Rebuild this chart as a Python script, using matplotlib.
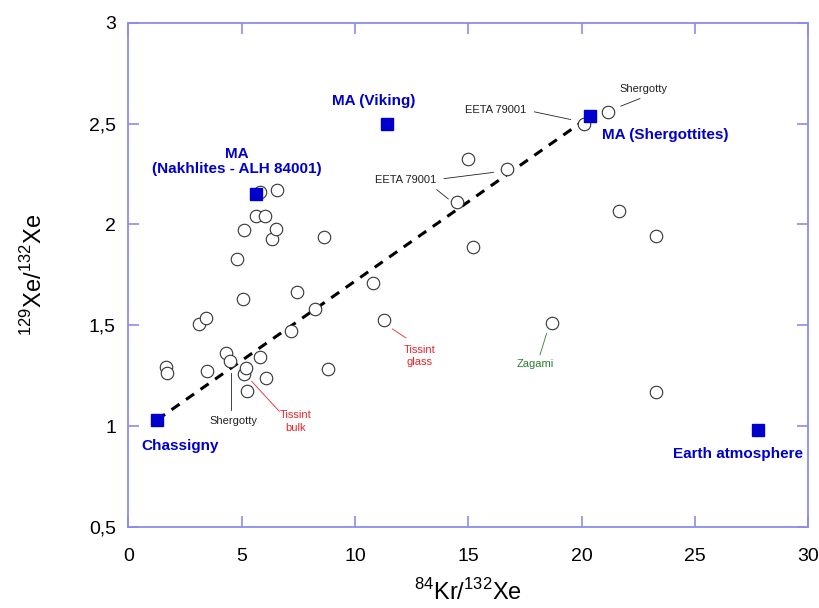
########################################################################
# Kr-Xe isotope plot of martian meteorites
########################################################################

import numpy as np
import matplotlib
matplotlib.use("Agg")
import matplotlib.pyplot as plt

### Input ##############################################################
#Meteorite analyses (open circles)
KrXe=[1.65,1.68,3.12,3.41,3.46,4.29,4.47,4.81,5.07,5.10,5.12,5.19,5.24,
	5.62,5.79,5.81,6.01,6.06,6.34,6.50,6.57,7.18,7.45,8.22,8.62,8.81,
	10.79,11.28,14.50,15.00,15.19,16.69,18.69,20.09,21.19,21.67,23.28,23.29]
XeXe=[1.292,1.262,1.504,1.535,1.274,1.363,1.322,1.830,1.628,1.970,1.260,
	1.289,1.175,2.040,2.160,1.341,2.040,1.240,1.930,1.977,2.169,1.473,
	1.667,1.580,1.937,1.282,1.711,1.524,2.109,2.326,1.887,2.276,1.512,
	2.500,2.557,2.068,1.945,1.171]

#End members (filled squares)
EndNames=['Chassigny','MA\n(Nakhlites - ALH 84001)','MA (Viking)',
	'MA (Shergottites)','Earth atmosphere']
EndKrXe=[1.26,5.65,11.41,20.38,27.78]
EndXeXe=[1.031,2.152,2.500,2.536,0.981]

#Mixing line between Chassigny and MA (Shergottites)
MixKrXe=[EndKrXe[0],EndKrXe[3]]
MixXeXe=[EndXeXe[0],EndXeXe[3]]

#Axis ticks
XTicks=[0,5,10,15,20,25,30]
YTicks=[0.5,1,1.5,2,2.5,3]
YTickLabels=['0,5','1','1,5','2','2,5','3']
### End Input ##########################################################

plt.rcParams['font.family']=['Liberation Sans','DejaVu Sans']
plt.rcParams['mathtext.fontset']='custom'
plt.rcParams['mathtext.rm']='Liberation Sans'
Blue='#0000cc'
Frame='#8c8cea'

fig=plt.figure(figsize=(8.2,6.08),dpi=100)
ax=fig.add_axes([0.1567,0.1332,0.8287,0.8295])

#Mixing line
ax.plot(MixKrXe,MixXeXe,color='black',lw=2.2,linestyle=(0,(3.2,2.6)),zorder=2)
#Meteorite data
ax.plot(KrXe,XeXe,'o',ms=9,mfc='white',mec='#333333',mew=0.8,
	linestyle='none',zorder=3)
#End members
ax.plot(EndKrXe,EndXeXe,'s',ms=9,color=Blue,linestyle='none',zorder=4)

#-----------------------------------------------------------------------
#End member labels
EndLabelPos=[(2.27,0.902),(4.77,2.313),(10.84,2.611),(23.71,2.442),(26.89,0.861)]
for name,(lx,ly) in zip(EndNames,EndLabelPos):
	ax.text(lx,ly,name,color=Blue,fontsize=11,fontweight='bold',
		ha='center',va='center',linespacing=1.1)

#Small sample labels with leader lines
def _Label(text,pos,lines,color):
	ax.text(pos[0],pos[1],text,fontsize=8,color=color,ha='center',
		va='center',linespacing=1.3)
	for (x0,y0),(x1,y1) in lines:
		ax.plot([x0,x1],[y0,y1],color=color,lw=0.6,zorder=1)

_Label('EETA 79001',(16.23,2.566),[((17.92,2.558),(19.52,2.52))],'#222222')
_Label('Shergotty',(22.73,2.671),[((21.73,2.586),(22.58,2.624))],'#222222')
_Label('EETA 79001',(12.24,2.222),[((13.93,2.227),(16.11,2.258)),
	((13.61,2.172),(14.12,2.126))],'#222222')
_Label('Shergotty',(4.63,1.026),[((4.51,1.261),(4.51,1.08))],'#222222')
_Label('Tissint\nbulk',(7.36,1.023),[((5.44,1.222),(6.66,1.073))],'#e8262b')
_Label('Tissint\nglass',(12.84,1.348),[((11.65,1.482),(12.25,1.437))],'#e8262b')
_Label('Zagami',(17.96,1.306),[((18.46,1.46),(18.17,1.354))],'#2e7d32')

#-----------------------------------------------------------------------
#Axes
ax.set_xlim(0,30)
ax.set_ylim(0.5,3)
ax.set_xticks(XTicks)
ax.set_yticks(YTicks)
ax.set_yticklabels(YTickLabels)
for s in ax.spines.values():
	s.set_color(Frame)
	s.set_linewidth(1.3)
ax.tick_params(direction='in',length=8,width=1.2,color=Frame,labelsize=14,
	top=True,right=True)
ax.tick_params(axis='x',pad=15)
ax.tick_params(axis='y',pad=9)
ax.set_xlabel(r'$^{84}$Kr/$^{132}$Xe',fontsize=17,labelpad=10)
ax.set_ylabel(r'$^{129}$Xe/$^{132}$Xe',fontsize=17,labelpad=30)

plt.savefig('out.png',dpi=100)
